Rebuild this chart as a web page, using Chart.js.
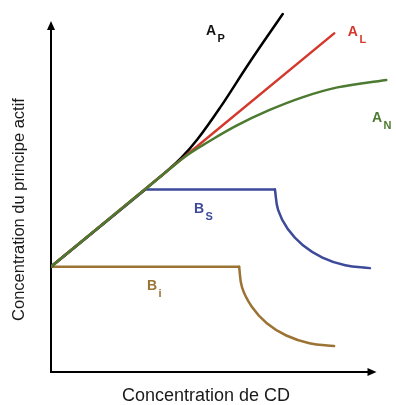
<!DOCTYPE html>
<html>
<head>
<meta charset="utf-8">
<script src="https://cdn.jsdelivr.net/npm/chart.js@4"></script>
<style>
body { margin: 0; background: #fff; }
#wrap { width: 396px; height: 405px; position: relative; }
</style>
</head>
<body>
<div id="wrap"><canvas id="chart"></canvas></div>
<script>
// phase solubility curves, [concentration CD, concentration principe actif]
var curveAP = [[0, 30], [34, 56], [40, 61], [45, 66.3], [52, 75.4], [61, 88.2], [71.2, 102]];
var curveAL = [[0, 30], [87, 96.5]];
var curveAN = [[0, 30], [36, 57.5], [42, 61.9], [48, 65.4], [57, 70.2], [67, 74.6], [77, 78.2], [88, 81.1], [103, 83.2]];
var plateauBS = [[0, 30], [29, 52], [68.8, 52]];
var dropBS = [[68.8, 52], [69.8, 46.1], [72.7, 40.8], [77.4, 36.1], [83.4, 32.6], [90.4, 30.4], [98, 29.6]];
var plateauBI = [[0, 30], [57.8, 30]];
var dropBI = [[57.8, 30], [58.7, 24.1], [61.7, 18.6], [66.3, 13.9], [72.3, 10.4], [79.4, 8.2], [87, 7.4]];

var xTitle = 'Concentration de CD';
var yTitle = 'Concentration du principe actif';

// curve names: [main letter, subscript, x, y, colour]
var curveLabels = [
    ['A', 'P', 47.6, 96.0, '#111111'],
    ['A', 'L', 91.2, 95.8, '#d4382c'],
    ['A', 'N', 98.6, 71.2, '#4c7a30'],
    ['B', 'S', 43.9, 45.3, '#3d4a9a'],
    ['B', 'i', 29.5, 23.4, '#9b7333']
];

function pts(arr) {
    return arr.map(function (p) { return {x: p[0], y: p[1]}; });
}

function curve(arr, colour, tension) {
    return {
        data: pts(arr),
        borderColor: colour,
        borderWidth: 2.5,
        pointRadius: 0,
        fill: false,
        borderCapStyle: 'round',
        borderJoinStyle: 'round',
        tension: tension
    };
}

var axesPlugin = {
    id: 'axes',
    beforeDatasetsDraw: function (chart) {
        var ctx = chart.ctx;
        var xs = chart.scales.x, ys = chart.scales.y;
        var x0 = xs.getPixelForValue(0), y0 = ys.getPixelForValue(0);
        var xEnd = xs.getPixelForValue(100), yEnd = ys.getPixelForValue(100);
        ctx.save();
        ctx.strokeStyle = '#000';
        ctx.fillStyle = '#000';
        ctx.lineWidth = 2;
        ctx.beginPath();
        ctx.moveTo(x0, y0 + 1);
        ctx.lineTo(x0, yEnd + 6);
        ctx.moveTo(x0 - 1, y0);
        ctx.lineTo(xEnd - 6, y0);
        ctx.stroke();
        // arrow heads
        ctx.beginPath();
        ctx.moveTo(x0, yEnd);
        ctx.lineTo(x0 - 4, yEnd + 9);
        ctx.lineTo(x0 + 4, yEnd + 9);
        ctx.closePath();
        ctx.fill();
        ctx.beginPath();
        ctx.moveTo(xEnd, y0);
        ctx.lineTo(xEnd - 9, y0 - 4);
        ctx.lineTo(xEnd - 9, y0 + 4);
        ctx.closePath();
        ctx.fill();
        ctx.restore();
    },
    afterDraw: function (chart) {
        var ctx = chart.ctx;
        var xs = chart.scales.x, ys = chart.scales.y;
        ctx.save();
        ctx.fillStyle = '#1a1a1a';
        ctx.font = '18px "Liberation Sans", Arial, sans-serif';
        ctx.textAlign = 'center';
        ctx.textBaseline = 'middle';
        ctx.fillText(xTitle, 206, 396);
        ctx.font = '16.5px "Liberation Sans", Arial, sans-serif';
        ctx.translate(19, 209.5);
        ctx.rotate(-Math.PI / 2);
        ctx.fillText(yTitle, 0, 0);
        ctx.restore();

        ctx.save();
        ctx.textAlign = 'left';
        ctx.textBaseline = 'alphabetic';
        curveLabels.forEach(function (l) {
            var px = xs.getPixelForValue(l[2]), py = ys.getPixelForValue(l[3]);
            ctx.fillStyle = l[4];
            ctx.font = 'bold 14px "Liberation Sans", Arial, sans-serif';
            ctx.fillText(l[0], px, py);
            var w = ctx.measureText(l[0]).width;
            ctx.font = 'bold 11px "Liberation Sans", Arial, sans-serif';
            ctx.fillText(l[1], px + w + 1.5, py + 7);
        });
        ctx.restore();
    }
};

var ctx = document.getElementById('chart');
var chart = new Chart(ctx, {
    type: 'line',
    data: {
        // dataset 0 is drawn on top
        datasets: [
            curve(curveAN, '#4c7a30', 0.4),
            curve(curveAL, '#d4382c', 0),
            curve(curveAP, '#000000', 0.4),
            curve(plateauBS, '#3d4a9a', 0),
            curve(dropBS, '#3d4a9a', 0.4),
            curve(plateauBI, '#9b7333', 0),
            curve(dropBI, '#9b7333', 0.4)
        ]
    },
    options: {
        responsive: true,
        maintainAspectRatio: false,
        animation: false,
        layout: { padding: { left: 51, right: 0, top: 0, bottom: 33 } },
        plugins: { legend: { display: false }, tooltip: { enabled: false } },
        scales: {
            x: { type: 'linear', min: 0, max: 106, display: false },
            y: { type: 'linear', min: 0, max: 106, display: false }
        }
    },
    plugins: [axesPlugin]
});
</script>
</body>
</html>
